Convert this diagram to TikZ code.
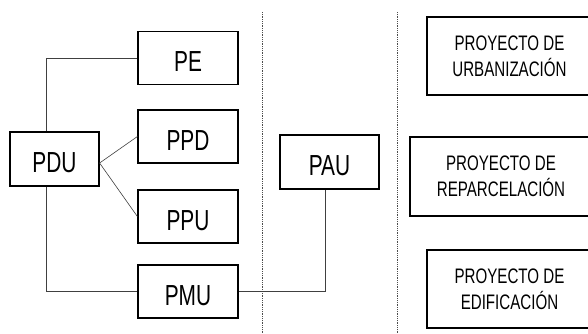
\documentclass[tikz,border=0pt]{standalone}
\usepackage{fontspec}
\setmainfont{Liberation Sans}[FakeStretch=0.72]
\usepackage{tikz}

\begin{document}
\begin{tikzpicture}[x=1pt,y=-1pt]
                \tikzstyle{plan}=[draw=black,line width=1.2pt,minimum width=100pt,minimum height=53pt,inner sep=0pt,text height=27pt,text depth=0pt,font=\fontsize{29}{30}\selectfont]
                \tikzstyle{proyecto}=[draw=black,line width=1.2pt,minimum width=165pt,minimum height=78pt,inner sep=0pt,align=center,font=\fontsize{21}{26}\selectfont]
                \tikzstyle{link}=[line width=0.6pt,black!75]
                \tikzstyle{sep}=[densely dotted,line width=0.8pt,black!70]
                \clip (0,0) rectangle (588,333);
                \useasboundingbox (0,0) rectangle (588,333);

                \node[plan,minimum width=89pt,minimum height=54pt] (PDU) at (54.5,159) {PDU};
                \foreach \name/\y in {PE/58, PPD/136.5, PPU/216.5, PMU/291.5}
                    \node[plan] (\name) at (188,\y) {\name};
                \node[plan,minimum width=99pt,minimum height=54pt] (PAU) at (329.5,162) {PAU};

                \node[proyecto] (P-urb) at (509.5,56) {PROYECTO DE\\URBANIZACIÓN};
                \node[proyecto,minimum width=182pt,minimum height=79pt] (P-rep) at (501,176.5) {PROYECTO DE\\REPARCELACIÓN};
                \node[proyecto] (P-edi) at (509.5,289) {PROYECTO DE\\EDIFICACIÓN};

                \foreach \x in {262, 397}
                    \draw[sep] (\x,12) -- (\x,333);

                \draw[link] ([xshift=-8pt]PDU.north) |- (PE.west);
                \draw[link] ([xshift=-8pt]PDU.south) |- (PMU.west);
                \foreach \to in {PPD, PPU}
                    \draw[link] ([yshift=-4pt]PDU.east) -- (\to.west);
                \draw[link] (PMU.east) -| ([xshift=-4pt]PAU.south);
\end{tikzpicture}
\end{document}
